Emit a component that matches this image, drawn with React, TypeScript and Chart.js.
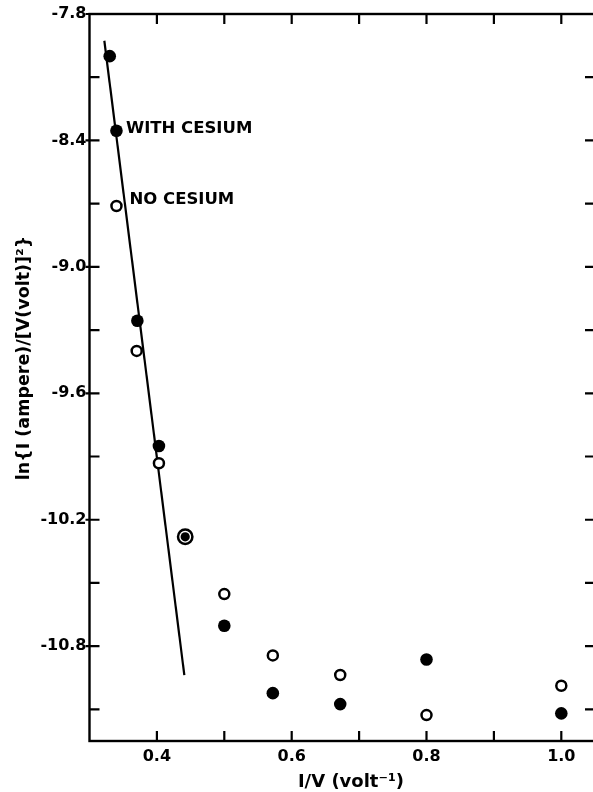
import React, { useEffect, useRef } from "react";
import { Chart, registerables } from "chart.js";

Chart.register(...registerables);

// ---- data ----
const withCesiumX = [0.330, 0.340, 0.371, 0.403, 0.442, 0.500, 0.572, 0.672, 0.800, 1.000];
const withCesiumY = [-8.00, -8.354, -9.256, -9.850, -10.281, -10.703, -11.023, -11.075, -10.863, -11.119];
const noCesiumX = [0.340, 0.370, 0.403, 0.442, 0.500, 0.572, 0.672, 0.800, 1.000];
const noCesiumY = [-8.711, -9.399, -9.932, -10.281, -10.553, -10.844, -10.937, -11.127, -10.988];
const fitLineX = [0.322, 0.4407];
const fitLineY = [-7.927, -10.937];

const xMajorTicks = [0.4, 0.6, 0.8, 1.0];
const xMajorLabels = ["0.4", "0.6", "0.8", "1.0"];
const xMinorTicks = [0.5, 0.7, 0.9];
const yMajorTicks = [-7.8, -8.4, -9.0, -9.6, -10.2, -10.8];
const yMajorLabels = ["-7.8", "-8.4", "-9.0", "-9.6", "-10.2", "-10.8"];
const yMinorTicks = [-8.1, -8.7, -9.3, -9.9, -10.5, -11.1];

const xRange = [0.3, 1.05];
const yRange = [-11.25, -7.8];

const xTitle = "I/V (volt\u207B\u00B9)";
const yTitle = "ln{I (ampere)/[V(volt)]\u00B2}";
const withLabel = "WITH CESIUM";
const noLabel = "NO CESIUM";

const FONT = "'DejaVu Sans', sans-serif";
const PLOT_RIGHT_OVERHANG = 2; // right frame of the original sits just past the page edge

const shared = noCesiumX.map((x, i) =>
  withCesiumX.some(
    (wx, j) => Math.abs(wx - x) < 1e-3 && Math.abs(withCesiumY[j] - noCesiumY[i]) < 0.02
  )
);
const sharedFilled = withCesiumX.map((x, j) =>
  noCesiumX.some(
    (nx, i) => Math.abs(nx - x) < 1e-3 && Math.abs(withCesiumY[j] - noCesiumY[i]) < 0.02
  )
);

const extendPlugin = {
  id: "extendRight",
  afterLayout(chart: any) {
    const target = chart.width + PLOT_RIGHT_OVERHANG;
    const area = chart.chartArea;
    area.right = target;
    area.width = target - area.left;
    const x = chart.scales.x;
    x.right = target;
    x.width = target - x.left;
    x.configure();
  },
};

const framePlugin = {
  id: "frameTicks",
  afterDraw(chart: any) {
    const { ctx, chartArea, scales } = chart;
    const { left, right, top, bottom } = chartArea;
    const x = scales.x;
    const y = scales.y;
    const inner = 10;
    ctx.save();
    ctx.strokeStyle = "#000";
    ctx.lineWidth = 2.4;
    ctx.lineCap = "butt";
    ctx.strokeRect(left, top, right - left, bottom - top);
    ctx.lineWidth = 2.2;
    ctx.beginPath();
    [...xMajorTicks, ...xMinorTicks].forEach((v) => {
      const px = x.getPixelForValue(v);
      ctx.moveTo(px, bottom);
      ctx.lineTo(px, bottom - inner);
      ctx.moveTo(px, top);
      ctx.lineTo(px, top + inner);
    });
    yMajorTicks.forEach((v) => {
      const py = y.getPixelForValue(v);
      ctx.moveTo(left - 4, py);
      ctx.lineTo(left + inner, py);
      ctx.moveTo(right - inner, py);
      ctx.lineTo(right, py);
    });
    yMinorTicks.forEach((v) => {
      const py = y.getPixelForValue(v);
      ctx.moveTo(left, py);
      ctx.lineTo(left + inner, py);
      ctx.moveTo(right - inner, py);
      ctx.lineTo(right, py);
    });
    ctx.stroke();

    // axis titles
    ctx.fillStyle = "#000";
    ctx.font = `bold 18px ${FONT}`;
    ctx.textAlign = "center";
    ctx.textBaseline = "middle";
    ctx.fillText(xTitle, 351, 782);
    ctx.save();
    ctx.translate(24, 358);
    ctx.rotate(-Math.PI / 2);
    ctx.font = `bold 17.5px ${FONT}`;
    ctx.fillText(yTitle, 0, 0);
    ctx.restore();

    // series annotations
    ctx.font = `bold 16.5px ${FONT}`;
    ctx.textAlign = "left";
    const pw = chart.getDatasetMeta(0).data[1];
    const pn = chart.getDatasetMeta(1).data[0];
    ctx.fillText(withLabel, pw.x + 9.5, pw.y - 2.5);
    ctx.fillText(noLabel, pn.x + 13, pn.y - 6);
    ctx.restore();
  },
};

export default function App() {
  const ref = useRef<HTMLCanvasElement | null>(null);

  useEffect(() => {
    if (!ref.current) return;
    const chart = new Chart(ref.current, {
      type: "scatter",
      data: {
        datasets: [
          {
            label: withLabel,
            data: withCesiumX.map((x, i) => ({ x, y: withCesiumY[i] })),
            backgroundColor: "#000",
            borderWidth: 0,
            pointRadius: (c: any) => (sharedFilled[c.dataIndex] ? 4.6 : 6.3),
            pointHoverRadius: 6.3,
          },
          {
            label: noLabel,
            data: noCesiumX.map((x, i) => ({ x, y: noCesiumY[i] })),
            backgroundColor: "#fff",
            borderColor: "#000",
            borderWidth: 2.5,
            pointRadius: (c: any) => (shared[c.dataIndex] ? 7.2 : 5),
          },
          {
            label: "fit",
            type: "line",
            data: fitLineX.map((x, i) => ({ x, y: fitLineY[i] })),
            borderColor: "#000",
            borderWidth: 2.2,
            pointRadius: 0,
            showLine: true,
            fill: false,
          } as any,
        ],
      },
      options: {
        responsive: false,
        animation: false,
        devicePixelRatio: 1,
        layout: { padding: { top: 14, right: 0, left: 0, bottom: 0 } },
        plugins: {
          legend: { display: false },
          tooltip: { enabled: false },
          title: { display: false },
        },
        scales: {
          x: {
            type: "linear",
            min: xRange[0],
            max: xRange[1],
            grid: { display: false, drawTicks: false },
            border: { display: false },
            afterBuildTicks: (s: any) => {
              s.ticks = xMajorTicks.map((v) => ({ value: v }));
            },
            afterFit: (s: any) => {
              s.height = 51;
              s.paddingLeft = 0;
              s.paddingRight = 0;
            },
            ticks: {
              padding: 6,
              color: "#000",
              font: { family: FONT, size: 16, weight: "bold" },
              maxRotation: 0,
              autoSkip: false,
              callback: (v: any) => {
                const i = xMajorTicks.findIndex((t) => Math.abs(t - Number(v)) < 1e-6);
                return i >= 0 ? xMajorLabels[i] : "";
              },
            },
          },
          y: {
            type: "linear",
            min: yRange[0],
            max: yRange[1],
            grid: { display: false, drawTicks: false },
            border: { display: false },
            afterBuildTicks: (s: any) => {
              s.ticks = yMajorTicks.map((v) => ({ value: v }));
            },
            afterFit: (s: any) => {
              s.width = 89.5;
              s.paddingTop = 0;
              s.paddingBottom = 0;
            },
            ticks: {
              padding: 3,
              color: "#000",
              font: { family: FONT, size: 16, weight: "bold" },
              autoSkip: false,
              callback: (v: any) => {
                const i = yMajorTicks.findIndex((t) => Math.abs(t - Number(v)) < 1e-6);
                return i >= 0 ? yMajorLabels[i] : "";
              },
            },
          },
        },
      },
      plugins: [extendPlugin, framePlugin],
    } as any);
    return () => chart.destroy();
  }, []);

  return (
    <div
      style={{
        position: "fixed",
        left: 0,
        top: 0,
        width: 593,
        height: 792,
        overflow: "hidden",
        background: "#fff",
      }}
    >
      <canvas
        ref={ref}
        width={593}
        height={792}
        style={{ display: "block", width: 593, height: 792 }}
      />
    </div>
  );
}
